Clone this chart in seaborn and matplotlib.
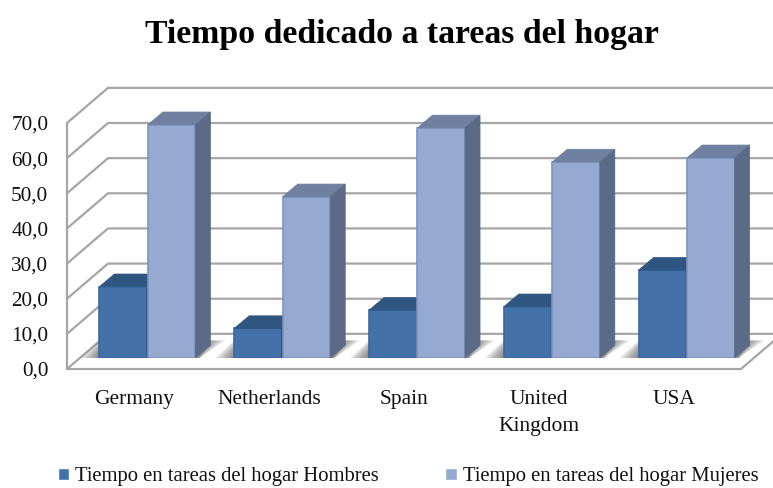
import matplotlib
matplotlib.use("Agg")
import matplotlib.pyplot as plt
from matplotlib.patches import Polygon
import pandas as pd
import seaborn as sns

# data
paises = ["Germany", "Netherlands", "Spain", "United\nKingdom", "USA"]
hombres = [20.3, 8.4, 13.6, 14.6, 25.0]
mujeres = [66.4, 45.9, 65.5, 55.8, 57.0]
serie_h = "Tiempo en tareas del hogar Hombres"
serie_m = "Tiempo en tareas del hogar Mujeres"
y_ticks = [0, 10, 20, 30, 40, 50, 60, 70]
y_labels = ["0,0", "10,0", "20,0", "30,0", "40,0", "50,0", "60,0", "70,0"]

df = pd.DataFrame({
    "pais": paises * 2,
    "serie": [serie_h] * 5 + [serie_m] * 5,
    "horas": hombres + mujeres,
})

sns.set_style("white")
plt.rcParams["font.family"] = ["Liberation Serif", "DejaVu Serif"]

W, H = 773, 488
fig = plt.figure(figsize=(W / 100, H / 100), dpi=100)

# front plane of the fake 3D box, it carries the ticks
ax = fig.add_axes([67 / W, (H - 369) / H, 674 / W, 246 / H])
ax.set_xlim(-0.5, 4.5)
ax.set_ylim(0, 70)
ax.set_xticks(range(5))
ax.set_xticklabels(paises, fontsize=15.5, color="#111111", linespacing=1.56)
ax.set_yticks(y_ticks)
ax.set_yticklabels(y_labels, fontsize=15.3, color="#111111")
ax.tick_params(axis="x", length=0, pad=15)
ax.tick_params(axis="y", length=0, pad=13.5)
sns.despine(ax=ax, left=True, bottom=True, top=True, right=True)
ax.patch.set_alpha(0)

# walls and floor
gris = "#a6a6a6"
prof_x = 41 / 134.8
prof_y = 10
for v in y_ticks:
    ax.plot([-0.5, -0.5 + prof_x, 4.5 + prof_x], [v, v + prof_y, v + prof_y],
            color=gris, lw=1.6, clip_on=False, zorder=1, solid_joinstyle="miter")
ax.plot([-0.5, -0.5], [0, 70], color=gris, lw=1.6, clip_on=False, zorder=1)
ax.plot([-0.5, 4.5, 4.5 + prof_x], [0, 0, prof_y], color=gris, lw=1.6,
        clip_on=False, zorder=1)

# bars sit a bit inside the box, so they get their own axes
ax2 = fig.add_axes([80 / W, (H - 358) / H, 674 / W, 246 / H])
ax2.set_zorder(2)
sns.barplot(data=df, x="pais", y="horas", hue="serie", order=paises,
            hue_order=[serie_h, serie_m],
            palette=["#4472a8", "#95a9d1"], width=0.72, gap=0.02,
            saturation=1, ax=ax2)
ax2.set_xlim(-0.5, 4.5)
ax2.set_ylim(0, 70)
ax2.axis("off")

dx = 15 / 134.8
dy = 3.6
tapa = ["#2f5581", "#6f80a0"]
lado = ["#2a4a72", "#5a6a87"]
borde = ["#3a68a2", "#7d93bd"]

for s, cont in enumerate(ax2.containers):
    for bar in cont:
        x0, w, h = bar.get_x(), bar.get_width(), bar.get_height()
        x1 = x0 + w
        bar.set_edgecolor(borde[s])
        bar.set_linewidth(1.2)
        bar.set_zorder(3 + s)
        ax2.add_patch(Polygon([(x0, h), (x1, h), (x1 + dx, h + dy), (x0 + dx, h + dy)],
                              fc=tapa[s], ec=tapa[s], lw=0.5, clip_on=False, zorder=3 + s))
        ax2.add_patch(Polygon([(x1, 0), (x1 + dx, dy), (x1 + dx, h + dy), (x1, h)],
                              fc=lado[s], ec=lado[s], lw=0.5, clip_on=False, zorder=3 + s))

# soft shadow on the floor, layered polygons
h_bars = ax2.containers[0]
m_bars = ax2.containers[1]
for bh, bm in zip(h_bars, m_bars):
    xa = bh.get_x()
    xb = bm.get_x() + bm.get_width()
    for k in range(6):
        e = k * 0.022
        ax2.add_patch(Polygon([(xa - 0.14 + e, 0), (xa + e * 0.5, 5.0),
                               (xb + 0.22 - e, 5.0), (xb + 0.03, 0)],
                              fc="#444444", ec="none", alpha=0.13, clip_on=False, zorder=1))

fig.text(402 / W, 1 - 35 / H, "Tiempo dedicado a tareas del hogar", ha="center", va="center",
         fontsize=24.3, fontweight="bold", color="black")

sns.move_legend(ax2, "center", bbox_to_anchor=(0.5, 0), bbox_transform=fig.transFigure,
                ncol=2, frameon=False, title=None, fontsize=14.9, handlelength=0.55,
                handleheight=0.55, handletextpad=0.3, columnspacing=3.2)
leg = ax2.get_legend()
leg.set_bbox_to_anchor((408 / W, 1 - 477 / H), transform=fig.transFigure)
for t in leg.get_texts():
    t.set_color("#111111")

fig.savefig("out.png", dpi=100)
